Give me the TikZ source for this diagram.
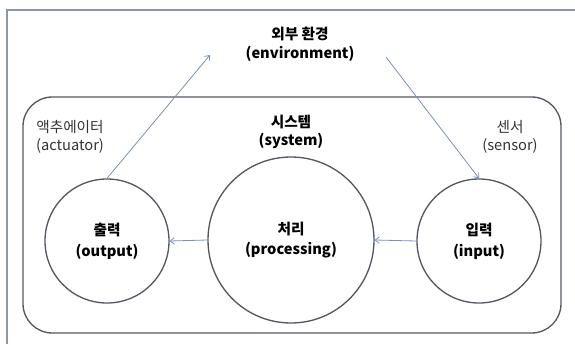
\documentclass[tikz,border=0pt]{standalone}
\usepackage{fontspec}
\setmainfont{Noto Sans CJK KR}
\usetikzlibrary{arrows.meta}

\definecolor{framegray}{RGB}{140,150,170}
\definecolor{linegray}{RGB}{85,88,98}
\definecolor{arrowblue}{RGB}{120,145,185}

\tikzset{every picture/.style={line width=0.75pt}}
\tikzset{
  part/.style={circle,draw=linegray,line width=1pt,align=center,font=\fontsize{11}{15.5}\selectfont\bfseries,inner sep=0pt},
  lbl/.style={align=center,inner sep=0.75pt,font=\fontsize{11}{14}\selectfont,text=black!80},
  flow/.style={draw=arrowblue,line width=0.6pt,-{Straight Barb[length=3pt,width=5pt]}}
}

\begin{document}
\begin{tikzpicture}[x=0.75pt,y=0.75pt,yscale=-1,xscale=1]
		\useasboundingbox (0,0) rectangle (575,344);
		%Shape: Frame
		\draw [color=framegray,line width=1.2pt] (575,10) -- (7,10) -- (7,344) ;
		%Shape: Rounded Rect (system)
		\draw [color=linegray,line width=1pt,rounded corners=22pt] (23,97) rectangle (561,333) ;
		
		%Shape: Circle
		\node [part,minimum size=93pt] (output) at (107,241) {출력\\(output)};
		%Shape: Circle
		\node [part,minimum size=124.5pt] (processing) at (291,240) {처리\\(processing)};
		%Shape: Circle
		\node [part,minimum size=93pt] (input) at (479,241) {입력\\(input)};
		
		% Text Node
		\node [lbl,text=black,font=\fontsize{11}{14}\selectfont\bfseries] (env) at (300,44) {외부 환경\\(environment)};
		% Text Node
		\node [lbl,text=black,font=\fontsize{11}{14}\selectfont\bfseries] (system) at (291,132) {시스템\\(system)};
		% Text Node
		\node [lbl] (actuator) at (70,137) {액추에이터\\(actuator)};
		% Text Node
		\node [lbl] (sensor) at (510,137) {센서\\(sensor)};
		
		\coordinate (envin) at (210,55);
		\coordinate (envout) at (386,57);
		%Straight Lines
		\draw [flow] (output.north) -- (envin) ;
		\draw [flow] (envout) -- (input.north) ;
		\draw [flow] (processing.west) -- (output.east) ;
		\draw [flow] (input.west) -- (processing.east) ;
	\end{tikzpicture}
\end{document}
